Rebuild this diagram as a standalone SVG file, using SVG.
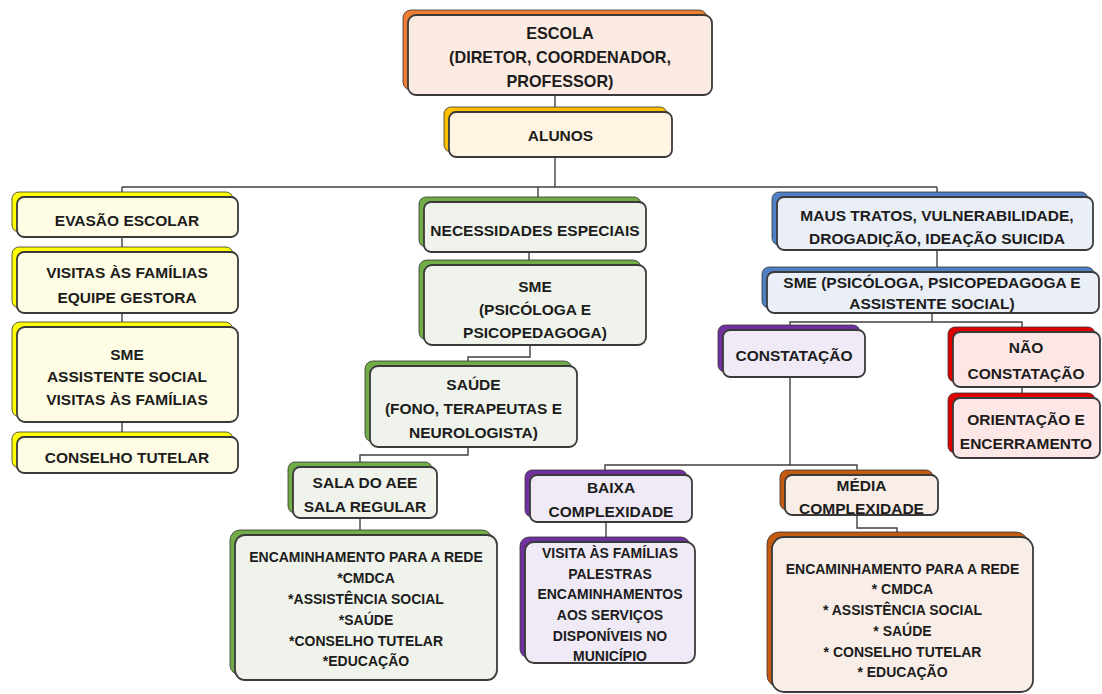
<svg xmlns="http://www.w3.org/2000/svg" width="1102" height="694" viewBox="0 0 1102 694">
<style>
text{font-family:"Liberation Sans",Arial,sans-serif;font-weight:bold;fill:#1c1c1c;text-anchor:middle;font-size:15.5px}
.sm{font-size:14px}
.big{font-size:16.2px}
.bk{stroke:#333;stroke-width:0.8}
.fr{stroke:#3a3a3a;stroke-width:1.8}
.o .bk{fill:#ED7D31}.o .fr{fill:#FCEBE3}
.g .bk{fill:#FFC000}.g .fr{fill:#FFF5E2}
.y .bk{fill:#FFFF00}.y .fr{fill:#FEFCE4}
.gr .bk{fill:#70AD47}.gr .fr{fill:#EFF3EB}
.b .bk{fill:#4F7FC4}.b .fr{fill:#EAEFF7}
.p .bk{fill:#7030A0}.p .fr{fill:#EFEAF5}
.r .bk{fill:#E00000}.r .fr{fill:#FCE6E6}
.br .bk{fill:#C55A11}.br .fr{fill:#F8EEE7}
#connectors path{fill:none;stroke:#404040;stroke-width:1.4}
</style>
<rect width="1102" height="694" fill="#ffffff"/>
<g id="connectors">
<path d="M555 95V107"/>
<path d="M555 157V187"/>
<path d="M122 187H937"/>
<path d="M122 187V192"/>
<path d="M538 187V197"/>
<path d="M937 187V192"/>
<path d="M122 237V247"/>
<path d="M122 313V322"/>
<path d="M122 422V432"/>
<path d="M529 252V260"/>
<path d="M530 345V357H468V361"/>
<path d="M468 447V455H360V462"/>
<path d="M360 518V530"/>
<path d="M937 250V267"/>
<path d="M932 313V322H790V325"/>
<path d="M932 322H1022V327"/>
<path d="M1022 387V393"/>
<path d="M790 377V465H857V470"/>
<path d="M790 465H605V470"/>
<path d="M606 522V537"/>
<path d="M857 515V528H897V532"/>
</g>
<g id="escola" class="o"><rect class="bk" x="403" y="10" width="304" height="80" rx="8"/><rect class="fr" x="408" y="15" width="304" height="80" rx="8"/>
<text class="big" x="560" y="38.5">ESCOLA</text><text class="big" x="560" y="63">(DIRETOR, COORDENADOR,</text><text class="big" x="560" y="87">PROFESSOR)</text></g>
<g id="alunos" class="g"><rect class="bk" x="444" y="107" width="223" height="45" rx="7"/><rect class="fr" x="449" y="112" width="223" height="45" rx="7"/>
<text x="560.5" y="140.5">ALUNOS</text></g>
<g id="evasao" class="y"><rect class="bk" x="12" y="192" width="221" height="40" rx="7"/><rect class="fr" x="17" y="197" width="221" height="40" rx="7"/>
<text x="127" y="225.5">EVASÃO ESCOLAR</text></g>
<g id="visitas" class="y"><rect class="bk" x="12" y="247" width="221" height="61" rx="7"/><rect class="fr" x="17" y="252" width="221" height="61" rx="7"/>
<text x="127" y="277.5">VISITAS ÀS FAMÍLIAS</text><text x="127" y="302.5">EQUIPE GESTORA</text></g>
<g id="sme-assistente" class="y"><rect class="bk" x="12" y="322" width="221" height="95" rx="8"/><rect class="fr" x="17" y="327" width="221" height="95" rx="8"/>
<text x="127" y="359.5">SME</text><text x="127" y="382">ASSISTENTE SOCIAL</text><text x="127" y="404.5">VISITAS ÀS FAMÍLIAS</text></g>
<g id="conselho" class="y"><rect class="bk" x="12" y="432" width="221" height="36" rx="7"/><rect class="fr" x="17" y="437" width="221" height="36" rx="7"/>
<text x="127" y="462.5">CONSELHO TUTELAR</text></g>
<g id="necessidades" class="gr"><rect class="bk" x="419" y="197" width="222" height="50" rx="7"/><rect class="fr" x="424" y="202" width="222" height="50" rx="7"/>
<text x="535" y="235.5">NECESSIDADES ESPECIAIS</text></g>
<g id="sme-psicologa" class="gr"><rect class="bk" x="419" y="260" width="222" height="80" rx="8"/><rect class="fr" x="424" y="265" width="222" height="80" rx="8"/>
<text x="535" y="291.5">SME</text><text x="535" y="315">(PSICÓLOGA E</text><text x="535" y="337.5">PSICOPEDAGOGA)</text></g>
<g id="saude" class="gr"><rect class="bk" x="365" y="361" width="207" height="81" rx="8"/><rect class="fr" x="370" y="366" width="207" height="81" rx="8"/>
<text x="473.5" y="389.5">SAÚDE</text><text x="473.5" y="414">(FONO, TERAPEUTAS E</text><text x="473.5" y="437.5">NEUROLOGISTA)</text></g>
<g id="sala" class="gr"><rect class="bk" x="288" y="462" width="144" height="51" rx="7"/><rect class="fr" x="293" y="467" width="144" height="51" rx="7"/>
<text x="365" y="487.5">SALA DO AEE</text><text x="365" y="511.5">SALA REGULAR</text></g>
<g id="encaminhamento-verde" class="gr"><rect class="bk" x="230" y="530" width="262" height="145" rx="10"/><rect class="fr" x="235" y="535" width="262" height="145" rx="10"/>
<text class="sm" x="366" y="562">ENCAMINHAMENTO PARA A REDE</text><text class="sm" x="366" y="583">*CMDCA</text><text class="sm" x="366" y="603.5">*ASSISTÊNCIA SOCIAL</text><text class="sm" x="366" y="624.5">*SAÚDE</text><text class="sm" x="366" y="645.5">*CONSELHO TUTELAR</text><text class="sm" x="366" y="666">*EDUCAÇÃO</text></g>
<g id="maus-tratos" class="b"><rect class="bk" x="772" y="192" width="316" height="53" rx="7"/><rect class="fr" x="777" y="197" width="316" height="53" rx="7"/>
<text x="937" y="220.5">MAUS TRATOS, VULNERABILIDADE,</text><text x="937" y="243.5">DROGADIÇÃO, IDEAÇÃO SUICIDA</text></g>
<g id="sme-social" class="b"><rect class="bk" x="762" y="267" width="332" height="41" rx="7"/><rect class="fr" x="767" y="272" width="332" height="41" rx="7"/>
<text x="932" y="287.5">SME (PSICÓLOGA, PSICOPEDAGOGA E</text><text x="932" y="309">ASSISTENTE SOCIAL)</text></g>
<g id="constatacao" class="p"><rect class="bk" x="718" y="325" width="142" height="47" rx="7"/><rect class="fr" x="723" y="330" width="142" height="47" rx="7"/>
<text x="794" y="360.5">CONSTATAÇÃO</text></g>
<g id="nao-constatacao" class="r"><rect class="bk" x="948" y="327" width="147" height="55" rx="7"/><rect class="fr" x="953" y="332" width="147" height="55" rx="7"/>
<text x="1026" y="352.5">NÃO</text><text x="1026" y="378.5">CONSTATAÇÃO</text></g>
<g id="orientacao" class="r"><rect class="bk" x="948" y="393" width="147" height="60" rx="7"/><rect class="fr" x="953" y="398" width="147" height="60" rx="7"/>
<text x="1026" y="424.5">ORIENTAÇÃO E</text><text x="1026" y="448.5">ENCERRAMENTO</text></g>
<g id="baixa" class="p"><rect class="bk" x="525" y="470" width="162" height="47" rx="7"/><rect class="fr" x="530" y="475" width="162" height="47" rx="7"/>
<text x="611" y="492.5">BAIXA</text><text x="611" y="517">COMPLEXIDADE</text></g>
<g id="visita-familias" class="p"><rect class="bk" x="520" y="537" width="170" height="121" rx="9"/><rect class="fr" x="525" y="542" width="170" height="121" rx="9"/>
<text class="sm" x="610" y="558">VISITA ÀS FAMÍLIAS</text><text class="sm" x="610" y="579">PALESTRAS</text><text class="sm" x="610" y="599">ENCAMINHAMENTOS</text><text class="sm" x="610" y="620">AOS SERVIÇOS</text><text class="sm" x="610" y="641">DISPONÍVEIS NO</text><text class="sm" x="610" y="661">MUNICÍPIO</text></g>
<g id="media" class="br"><rect class="bk" x="780" y="470" width="153" height="40" rx="7"/><rect class="fr" x="785" y="475" width="153" height="40" rx="7"/>
<text x="861.5" y="490.5">MÉDIA</text><text x="861.5" y="513.5">COMPLEXIDADE</text></g>
<g id="encaminhamento-laranja" class="br"><rect class="bk" x="767" y="532" width="261" height="155" rx="12"/><rect class="fr" x="772" y="537" width="261" height="155" rx="12"/>
<text class="sm" x="902.5" y="574">ENCAMINHAMENTO PARA A REDE</text><text class="sm" x="902.5" y="594">* CMDCA</text><text class="sm" x="902.5" y="615">* ASSISTÊNCIA SOCIAL</text><text class="sm" x="902.5" y="636">* SAÚDE</text><text class="sm" x="902.5" y="657">* CONSELHO TUTELAR</text><text class="sm" x="902.5" y="677">* EDUCAÇÃO</text></g>
</svg>
